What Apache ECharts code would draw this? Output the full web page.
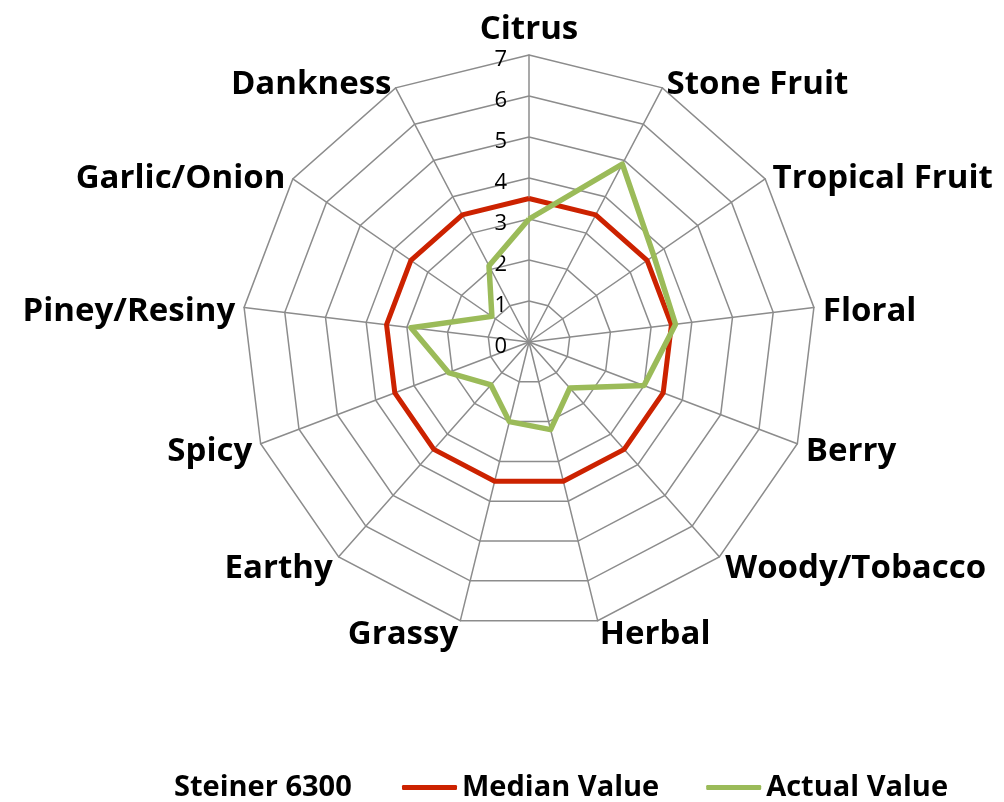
<!DOCTYPE html>
<html>
<head>
<meta charset="utf-8">
<script src="https://cdn.jsdelivr.net/npm/echarts@6/dist/echarts.min.js"></script>
<style>
  html, body { margin: 0; padding: 0; background: #fff; }
  #container { width: 1004px; height: 802px; }
</style>
</head>
<body>
<div id="container"></div>
<script>
// flavour axes, clockwise from the top
var categories = ['Citrus', 'Stone Fruit', 'Tropical Fruit', 'Floral', 'Berry', 'Woody/Tobacco',
  'Herbal', 'Grassy', 'Earthy', 'Spicy', 'Piney/Resiny', 'Garlic/Onion', 'Dankness'];
var medianValues = [3.5, 3.5, 3.5, 3.5, 3.5, 3.5, 3.5, 3.5, 3.5, 3.5, 3.5, 3.5, 3.5];
var actualValues = [3.0, 4.9, 3.7, 3.6, 3.0, 1.5, 2.2, 2.0, 1.4, 2.1, 2.9, 1.1, 2.1];
var hopName = 'Steiner 6300';
var seriesNames = ['Median Value', 'Actual Value'];
var axisMax = 7;

window.onload = function () {
  drawRadar();
};

// echarts lays indicators out counter-clockwise, so flip everything after the first one
function clockwise(arr) {
  return [arr[0]].concat(arr.slice(1).reverse());
}

function drawRadar() {
  var myChart = echarts.init(document.getElementById('container'));
  var font = 'Open Sans';

  var indicators = clockwise(categories).map(function (name, i) {
    var ind = { name: name, max: axisMax, min: 0 };
    ind.axisLabel = { show: i === 0 };
    return ind;
  });

  myChart.setOption({
    animation: false,
    title: {
      text: hopName,
      left: 174,
      top: 773,
      padding: 0,
      textStyle: { fontFamily: font, fontSize: 29, fontWeight: 'bold', color: '#000' }
    },
    legend: {
      data: seriesNames,
      left: 402,
      top: 773,
      padding: 0,
      itemWidth: 55,
      itemHeight: 5,
      itemGap: 47,
      icon: 'roundRect',
      textStyle: { fontFamily: font, fontSize: 29, fontWeight: 'bold', color: '#000' }
    },
    radar: {
      center: [529, 342],
      radius: 287,
      startAngle: 90,
      shape: 'polygon',
      splitNumber: 7,
      indicator: indicators,
      nameGap: 9,
      axisName: {
        formatter: '{n|{value}}',
        rich: { n: { fontFamily: font, fontSize: 33, fontWeight: 'bold', color: '#000', padding: [10, 0, 0, 0] } }
      },
      axisLine: { lineStyle: { color: '#8c8c8c', width: 1.5 } },
      splitLine: { lineStyle: { color: '#8c8c8c', width: 1.5 } },
      splitArea: { show: false },
      axisTick: { show: false },
      axisLabel: {
        show: false, margin: 22,
        formatter: '{t|{value}}',
        rich: { t: { fontFamily: font, fontSize: 22, color: '#000', padding: [10, 0, 0, 0] } }
      }
    },
    series: [{
      type: 'radar',
      symbol: 'none',
      data: [
        { name: seriesNames[0], value: clockwise(medianValues),
          lineStyle: { color: '#cc2200', width: 5 }, itemStyle: { color: '#cc2200' } },
        { name: seriesNames[1], value: clockwise(actualValues),
          lineStyle: { color: '#9bbb59', width: 5.5 }, itemStyle: { color: '#9bbb59' } }
      ]
    }]
  });
}
</script>
</body>
</html>
